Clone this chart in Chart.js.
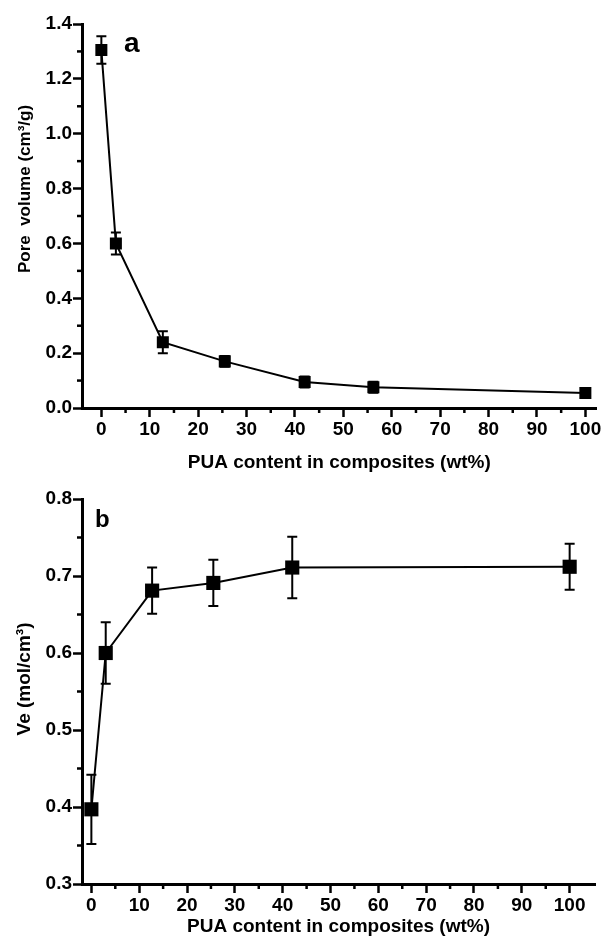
<!DOCTYPE html>
<html>
<head>
<meta charset="utf-8">
<script src="https://cdn.jsdelivr.net/npm/chart.js@4.4.0/dist/chart.umd.min.js"></script>
<style>
  body { margin: 0; background: #fff; }
  #wrapA { position: absolute; left: 0; top: 0; width: 605px; height: 475px; }
  #wrapB { position: absolute; left: 0; top: 475px; width: 605px; height: 463px; }
</style>
</head>
<body>
<div id="wrapA"><canvas id="chartA"></canvas></div>
<div id="wrapB"><canvas id="chartB"></canvas></div>
<script>
// panel a: pore volume
const puaA = [0, 3, 12.7, 25.5, 42, 56.2, 100];
const poreVolume = [1.305, 0.600, 0.240, 0.170, 0.095, 0.076, 0.055];
const poreErr = [0.05, 0.04, 0.04, 0.02, 0.02, 0.02, 0.015];

// panel b: Ve
const puaB = [0, 3, 12.7, 25.5, 42, 100];
const ve = [0.397, 0.600, 0.681, 0.691, 0.711, 0.712];
const veErr = [0.045, 0.04, 0.03, 0.03, 0.04, 0.03];

// ticks
const xTicks = [0, 5, 10, 15, 20, 25, 30, 35, 40, 45, 50, 55, 60, 65, 70, 75, 80, 85, 90, 95, 100];
const xLabels = [0, 10, 20, 30, 40, 50, 60, 70, 80, 90, 100];
const yTicksA = [0, 0.1, 0.2, 0.3, 0.4, 0.5, 0.6, 0.7, 0.8, 0.9, 1.0, 1.1, 1.2, 1.3, 1.4];
const yLabelsA = [0, 0.2, 0.4, 0.6, 0.8, 1.0, 1.2, 1.4];
const yTicksB = [0.3, 0.35, 0.4, 0.45, 0.5, 0.55, 0.6, 0.65, 0.7, 0.75, 0.8];
const yLabelsB = [0.3, 0.4, 0.5, 0.6, 0.7, 0.8];

Chart.defaults.font.family = '"Liberation Sans", Arial, sans-serif';
Chart.defaults.font.weight = 'bold';
Chart.defaults.color = '#000';

function isLabelled(v, list) {
    return list.includes(+v.toFixed(3));
}

// error bars, short minor ticks, rotated y title, panel letter
const extras = {
    id: 'extras',
    beforeDatasetsDraw(chart, args, opts) {
        const ctx = chart.ctx;
        const x = chart.scales.x, y = chart.scales.y;
        const pts = chart.data.datasets[0].data;
        ctx.save();
        ctx.strokeStyle = '#000';
        ctx.lineWidth = 2;
        pts.forEach(function (p, i) {
            const e = opts.errors[i];
            const px = x.getPixelForValue(p.x);
            const top = y.getPixelForValue(p.y + e);
            const bot = y.getPixelForValue(p.y - e);
            ctx.beginPath();
            ctx.moveTo(px, top); ctx.lineTo(px, bot);
            ctx.moveTo(px - opts.cap, top); ctx.lineTo(px + opts.cap, top);
            ctx.moveTo(px - opts.cap, bot); ctx.lineTo(px + opts.cap, bot);
            ctx.stroke();
        });
        ctx.restore();
    },
    afterDraw(chart, args, opts) {
        const ctx = chart.ctx;
        const x = chart.scales.x, y = chart.scales.y;
        ctx.save();
        ctx.strokeStyle = '#000';
        ctx.lineWidth = 2.5;
        x.ticks.forEach(function (t) {
            if (t.label !== '') return;
            const px = x.getPixelForValue(t.value);
            ctx.beginPath();
            ctx.moveTo(px, x.top); ctx.lineTo(px, x.top + 5);
            ctx.stroke();
        });
        y.ticks.forEach(function (t) {
            if (t.label !== '') return;
            const py = y.getPixelForValue(t.value);
            ctx.beginPath();
            ctx.moveTo(y.right - 5, py); ctx.lineTo(y.right, py);
            ctx.stroke();
        });
        // y title
        ctx.fillStyle = '#000';
        ctx.font = 'bold ' + opts.titleSize + 'px "Liberation Sans", Arial, sans-serif';
        ctx.translate(25, opts.titleY);
        ctx.rotate(-Math.PI / 2);
        ctx.textAlign = 'center';
        ctx.textBaseline = 'middle';
        ctx.fillText(opts.title, 0, 0);
        ctx.restore();
        // panel letter
        ctx.save();
        ctx.fillStyle = '#000';
        ctx.font = 'bold ' + opts.letterSize + 'px "Liberation Sans", Arial, sans-serif';
        ctx.textBaseline = 'alphabetic';
        ctx.fillText(opts.letter, opts.letterX, opts.letterY);
        ctx.restore();
    }
};

function makeChart(id, xs, ys, cfg) {
    const ctx = document.getElementById(id);
    return new Chart(ctx, {
        type: 'scatter',
        data: {
            datasets: [{
                data: xs.map(function (v, i) { return { x: v, y: ys[i] }; }),
                showLine: true,
                borderColor: '#000',
                borderWidth: 2,
                pointStyle: 'rect',
                pointRadius: cfg.pointRadius,
                pointBackgroundColor: '#000',
                pointBorderWidth: 0
            }]
        },
        options: {
            responsive: true,
            maintainAspectRatio: false,
            animation: false,
            events: [],
            layout: { padding: { top: 24, right: cfg.padRight, left: 0, bottom: 0 } },
            plugins: {
                legend: { display: false },
                tooltip: { enabled: false },
                extras: cfg.extras
            },
            scales: {
                x: {
                    type: 'linear',
                    min: cfg.xMin,
                    max: cfg.xMax,
                    afterBuildTicks: function (s) { s.ticks = xTicks.map(function (v) { return { value: v }; }); },
                    afterFit: function (s) { s.height = cfg.xHeight; },
                    border: { display: true, color: '#000', width: 3 },
                    grid: {
                        drawOnChartArea: false,
                        drawTicks: true,
                        tickLength: 9,
                        tickWidth: 2.5,
                        tickColor: function (c) { return c.tick && isLabelled(c.tick.value, xLabels) ? '#000' : 'rgba(0,0,0,0)'; }
                    },
                    ticks: {
                        autoSkip: false,
                        maxRotation: 0,
                        padding: cfg.xPad,
                        font: { size: 19, weight: 'bold' },
                        callback: function (v) { return isLabelled(v, xLabels) ? String(v) : ''; }
                    },
                    title: {
                        display: true,
                        text: 'PUA content in composites (wt%)',
                        font: { size: 19, weight: 'bold' },
                        padding: { top: 0, bottom: cfg.titlePad }
                    }
                },
                y: {
                    type: 'linear',
                    min: cfg.yMin,
                    max: cfg.yMax,
                    afterBuildTicks: function (s) { s.ticks = cfg.yTicks.map(function (v) { return { value: v }; }); },
                    afterFit: function (s) { s.width = 82; },
                    border: { display: true, color: '#000', width: 3 },
                    grid: {
                        drawOnChartArea: false,
                        drawTicks: true,
                        tickLength: 9,
                        tickWidth: 2.5,
                        tickColor: function (c) { return c.tick && isLabelled(c.tick.value, cfg.yLabels) ? '#000' : 'rgba(0,0,0,0)'; }
                    },
                    ticks: {
                        autoSkip: false,
                        padding: 1,
                        font: { size: 19, weight: 'bold' },
                        callback: function (v) { return isLabelled(v, cfg.yLabels) ? v.toFixed(1) : ''; }
                    },
                    title: { display: false }
                }
            }
        },
        plugins: [extras]
    });
}

makeChart('chartA', puaA, poreVolume, {
    pointRadius: 8.5,
    padRight: 5,
    xMin: -4, xMax: 102.3,
    xHeight: 67, xPad: 1, titlePad: 1,
    yMin: 0, yMax: 1.4,
    yTicks: yTicksA, yLabels: yLabelsA,
    extras: {
        errors: poreErr, cap: 5,
        title: 'Pore  volume (cm\u00b3/g)', titleY: 189, titleSize: 17,
        letter: 'a', letterX: 124, letterY: 52, letterSize: 28
    }
});

makeChart('chartB', puaB, ve, {
    pointRadius: 10,
    padRight: 3,
    xMin: -1.96, xMax: 105.3,
    xHeight: 54, xPad: 1, titlePad: 0,
    yMin: 0.3, yMax: 0.8,
    yTicks: yTicksB, yLabels: yLabelsB,
    extras: {
        errors: veErr, cap: 5,
        title: 'Ve (mol/cm\u00b3)', titleY: 204, titleSize: 19,
        letter: 'b', letterX: 95, letterY: 52, letterSize: 24
    }
});
</script>
</body>
</html>
